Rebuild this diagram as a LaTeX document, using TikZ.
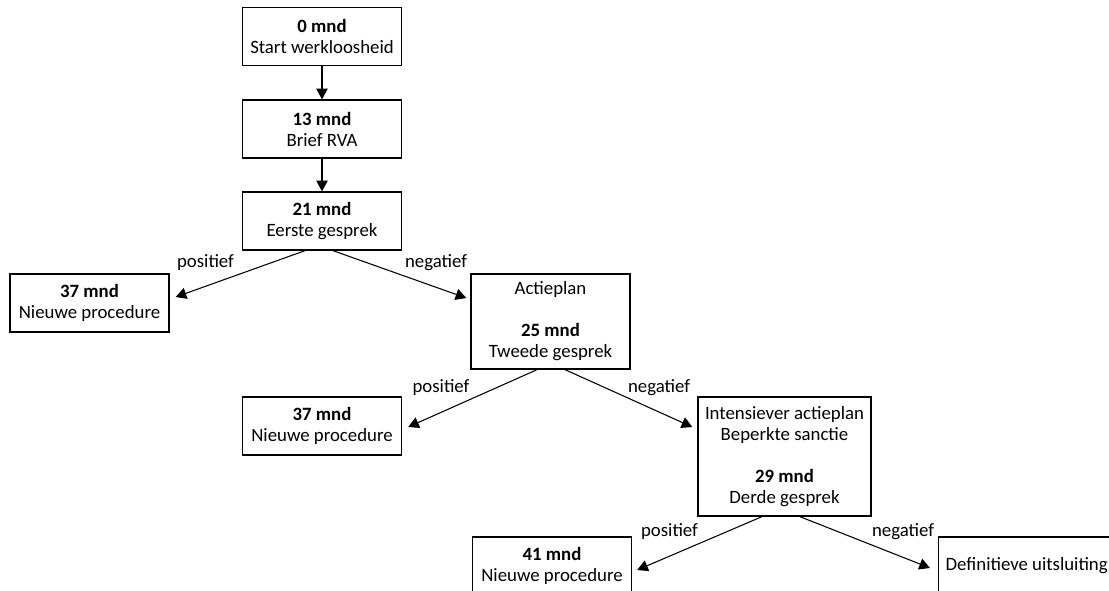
\documentclass[tikz,border=0pt]{standalone}
\usepackage{fontspec}
\setmainfont{Carlito}
\usetikzlibrary{arrows.meta}

\begin{document}
\begin{tikzpicture}[
  x=0.75pt,y=-0.75pt,
  font=\fontsize{14.1pt}{15.75pt}\selectfont,
  flow/.style={-{Triangle[length=8pt,width=8.5pt]}, draw=black,
               line width=0.8pt},
  phase/.style={draw=black, line width=1pt, fill=white, align=center,
                minimum width=119.25pt, minimum height=43.5pt,
                inner sep=0pt},
  verdict/.style={inner sep=1pt}
]

% Page frame; the lowest boxes run off the page.
\fill[white] (0,0) rectangle (1109,591);
\useasboundingbox (0,0) rectangle (1109,591);
\clip (0,0) rectangle (1109,591);

% Main line of the procedure.
\node[phase] (start) at (322,36.5) {\textbf{0 mnd}\\Start werkloosheid};
\node[phase] (brief) at (322,129) {\textbf{13 mnd}\\Brief RVA};
\node[phase] (gesprek1) at (322,221) {\textbf{21 mnd}\\Eerste gesprek};

\draw[flow] (start) -- (brief);
\draw[flow] (brief) -- (gesprek1);

% First interview.
\node[phase] (nieuw1) at (89.5,303) {\textbf{37 mnd}\\Nieuwe procedure};
\node[phase, minimum height=71.25pt] (actie) at (550.5,321.5)
  {Actieplan\\[15.75pt]\textbf{25 mnd}\\Tweede gesprek};

\draw[flow] ([xshift=-12.75pt]gesprek1.south)
  -- ([xshift=4.5pt,yshift=4.5pt]nieuw1.east);
\draw[flow] ([xshift=8.25pt]gesprek1.south)
  -- ([xshift=-3pt,yshift=17.6pt]actie.west);
\node[verdict] (pos1) at (205.5,263) {positief};
\node[verdict] (neg1) at (436,263) {negatief};

% Second interview.
\node[phase] (nieuw2) at (322,426) {\textbf{37 mnd}\\Nieuwe procedure};
\node[phase, minimum width=129.75pt, minimum height=89.25pt] (intens)
  at (784.5,456.5)
  {Intensiever actieplan\\Beperkte sanctie\\[15.75pt]\textbf{29 mnd}\\Derde gesprek};

\draw[flow] ([xshift=-10.1pt]actie.south)
  -- ([xshift=4.5pt,yshift=-0.75pt]nieuw2.east);
\draw[flow] ([xshift=10.9pt]actie.south)
  -- ([xshift=-3.75pt,yshift=22.1pt]intens.west);
\node[verdict] (pos2) at (441,388) {positief};
\node[verdict] (neg2) at (659,388) {negatief};

% Third interview.
\node[phase] (nieuw3) at (552,566) {\textbf{41 mnd}\\Nieuwe procedure};
\node[phase, anchor=west, minimum width=0pt, inner xsep=5.25pt]
  (uitsluiting) at (938,566) {Definitieve uitsluiting};

\draw[flow] ([xshift=-16.9pt]intens.south)
  -- ([xshift=3.75pt,yshift=-3pt]nieuw3.east);
\draw[flow] ([xshift=11.6pt]intens.south)
  -- ([xshift=-6pt,yshift=-1.5pt]uitsluiting.west);
\node[verdict] (pos3) at (669.5,532) {positief};
\node[verdict] (neg3) at (903,532) {negatief};

\end{tikzpicture}
\end{document}
